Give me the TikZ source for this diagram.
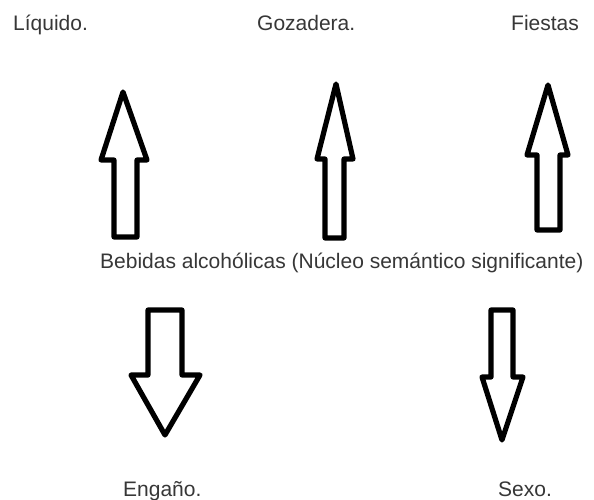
\documentclass[tikz,border=0pt]{standalone}
\usepackage{fontspec}
\setmainfont{Liberation Sans}
\definecolor{txtgray}{RGB}{55,55,55}
\begin{document}
\begin{tikzpicture}[x=1pt,y=-1pt,
  lbl/.style={anchor=base west,inner sep=0pt,text=txtgray,font=\fontsize{21}{24}\selectfont},
  blockarrow/.style={draw=black,line width=5.2pt,line join=round,fill=white}]
\useasboundingbox[fill=white] (0,0) rectangle (594,500);
% labels
\node[lbl] (liq) at (13,31) {Líquido.};
\node[lbl] (goz) at (257,31) {Gozadera.};
\node[lbl] (fie) at (511,31) {Fiestas};
\node[lbl] (beb) at (100,268) {Bebidas alcohólicas (Núcleo semántico significante)};
\node[lbl] (eng) at (123,496) {Engaño.};
\node[lbl] (sex) at (498,496) {Sexo.};
% up arrows
\draw[blockarrow] (123,92) -- (147,160) -- (137,160) -- (137,237) -- (114,237) -- (114,160) -- (101,160) -- cycle;
\draw[blockarrow] (336,84) -- (353,159) -- (344,159) -- (344,238) -- (325,238) -- (325,159) -- (317,159) -- cycle;
\draw[blockarrow] (548,85) -- (568,155) -- (560,155) -- (560,230) -- (537,230) -- (537,155) -- (527,155) -- cycle;
% down arrows
\draw[blockarrow] (148,310) -- (182,310) -- (182,375) -- (200,375) -- (165,435) -- (131,375) -- (148,375) -- cycle;
\draw[blockarrow] (491,310) -- (513,310) -- (513,377) -- (523,377) -- (502,440) -- (482,377) -- (491,377) -- cycle;
\end{tikzpicture}
\end{document}
